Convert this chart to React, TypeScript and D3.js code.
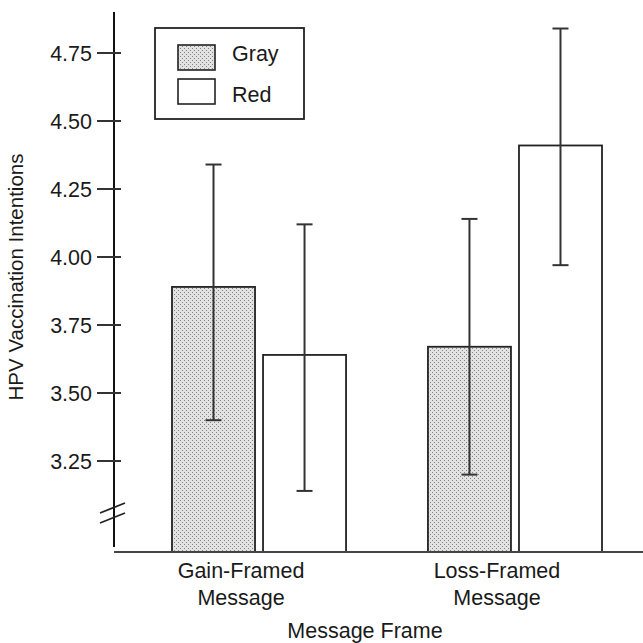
import React, { useEffect, useRef } from "react";
import * as d3 from "d3";

const groups = ["Gain-Framed Message", "Loss-Framed Message"];
const series = ["Gray", "Red"];
const grayMeans = [3.89, 3.67];
const redMeans = [3.64, 4.41];
const grayLower = [3.4, 3.2];
const grayUpper = [4.34, 4.14];
const redLower = [3.14, 3.97];
const redUpper = [4.12, 4.84];
const tickValues = [3.25, 3.5, 3.75, 4.0, 4.25, 4.5, 4.75];

const W = 643;
const H = 643;
const FONT = "'Liberation Sans', Arial, sans-serif";
const TXT = "#1a1a1a";

const App = () => {
  const ref = useRef<SVGSVGElement>(null);

  useEffect(() => {
    if (!ref.current) return;
    const svg = d3.select(ref.current);
    svg.selectAll("*").remove();

    const axisX = 114;
    const baseY = 552;
    const topY = 12;

    const y = d3.scaleLinear().domain([3.25, 4.75]).range([461, 53]);
    const x0 = d3.scaleBand<string>().domain(groups).range([172, 602]).paddingInner(0.32);
    const x1 = d3.scaleBand<string>().domain(series).range([0, x0.bandwidth()]).paddingInner(0.088);

    const defs = svg.append("defs");
    const pat = defs
      .append("pattern")
      .attr("id", "stipple")
      .attr("width", 4)
      .attr("height", 4)
      .attr("patternUnits", "userSpaceOnUse");
    pat.append("rect").attr("width", 4).attr("height", 4).attr("fill", "#e2e2e2");
    pat.append("rect").attr("x", 0).attr("y", 0).attr("width", 1).attr("height", 1).attr("fill", "#858585");
    pat.append("rect").attr("x", 2).attr("y", 2).attr("width", 1).attr("height", 1).attr("fill", "#858585");

    const rows = groups.flatMap((g, i) => [
      { g, s: "Gray", mean: grayMeans[i], lo: grayLower[i], hi: grayUpper[i] },
      { g, s: "Red", mean: redMeans[i], lo: redLower[i], hi: redUpper[i] },
    ]);

    // bars
    svg
      .append("g")
      .selectAll("rect")
      .data(rows)
      .join("rect")
      .attr("x", (d) => x0(d.g)! + x1(d.s)!)
      .attr("y", (d) => y(d.mean))
      .attr("width", x1.bandwidth())
      .attr("height", (d) => baseY - y(d.mean))
      .attr("fill", (d) => (d.s === "Gray" ? "url(#stipple)" : "#fff"))
      .attr("stroke", "#222")
      .attr("stroke-width", 1.8);

    // error bars
    const eb = svg.append("g").attr("stroke", "#333").attr("stroke-width", 2);
    rows.forEach((d) => {
      const cx = x0(d.g)! + x1(d.s)! + x1.bandwidth() / 2;
      eb.append("line").attr("x1", cx).attr("x2", cx).attr("y1", y(d.hi)).attr("y2", y(d.lo));
      [d.hi, d.lo].forEach((v) => {
        eb.append("line").attr("x1", cx - 8).attr("x2", cx + 8).attr("y1", y(v)).attr("y2", y(v));
      });
    });

    // y axis
    svg
      .append("line")
      .attr("x1", axisX)
      .attr("x2", axisX)
      .attr("y1", topY)
      .attr("y2", baseY - 5)
      .attr("stroke", "#111")
      .attr("stroke-width", 2);
    const ticks = svg.append("g");
    tickValues.forEach((v) => {
      ticks
        .append("line")
        .attr("x1", axisX - 17)
        .attr("x2", axisX + 7)
        .attr("y1", y(v))
        .attr("y2", y(v))
        .attr("stroke", "#333")
        .attr("stroke-width", 2);
      ticks
        .append("text")
        .attr("x", axisX - 22)
        .attr("y", y(v) + 8)
        .attr("text-anchor", "end")
        .attr("font-family", FONT)
        .attr("font-size", 21.5)
        .attr("fill", TXT)
        .text(d3.format(".2f")(v));
    });

    // axis break
    [0, 10].forEach((off) => {
      svg
        .append("line")
        .attr("x1", axisX - 14)
        .attr("y1", 513 + off)
        .attr("x2", axisX + 11)
        .attr("y2", 503 + off)
        .attr("stroke", "#222")
        .attr("stroke-width", 1.8);
    });

    // x axis
    svg
      .append("line")
      .attr("x1", axisX)
      .attr("x2", W)
      .attr("y1", baseY)
      .attr("y2", baseY)
      .attr("stroke", "#444")
      .attr("stroke-width", 2);

    groups.forEach((g) => {
      const cx = x0(g)! + x0.bandwidth() / 2 - 18;
      const t = svg
        .append("text")
        .attr("text-anchor", "middle")
        .attr("font-family", FONT)
        .attr("font-size", 21.5)
        .attr("fill", TXT);
      const parts = g.split(" ");
      t.append("tspan").attr("x", cx).attr("y", 578).text(parts[0]);
      t.append("tspan").attr("x", cx).attr("y", 605).text(parts[1]);
    });

    svg
      .append("text")
      .attr("x", 365)
      .attr("y", 638)
      .attr("text-anchor", "middle")
      .attr("font-family", FONT)
      .attr("font-size", 21.5)
      .attr("fill", TXT)
      .text("Message Frame");

    svg
      .append("text")
      .attr("transform", `translate(23, 277) rotate(-90)`)
      .attr("text-anchor", "middle")
      .attr("font-family", FONT)
      .attr("font-size", 20.5)
      .attr("fill", TXT)
      .text("HPV Vaccination Intentions");

    // legend
    const lg = svg.append("g");
    lg.append("rect")
      .attr("x", 155)
      .attr("y", 28)
      .attr("width", 149)
      .attr("height", 91)
      .attr("fill", "#fff")
      .attr("stroke", "#222")
      .attr("stroke-width", 1.8);
    series.forEach((s, i) => {
      const yy = 45 + i * 34;
      lg.append("rect")
        .attr("x", 178)
        .attr("y", yy)
        .attr("width", 37)
        .attr("height", 25)
        .attr("fill", s === "Gray" ? "url(#stipple)" : "#fff")
        .attr("stroke", "#222")
        .attr("stroke-width", 1.6);
      lg.append("text")
        .attr("x", 232)
        .attr("y", yy + 16 + i * 7)
        .attr("font-family", FONT)
        .attr("font-size", 21.5)
        .attr("fill", TXT)
        .text(s);
    });
  }, []);

  return (
    <svg
      ref={ref}
      width={W}
      height={H}
      style={{ position: "absolute", left: 0, top: 0, background: "#fff" }}
    ></svg>
  );
};

export default App;
